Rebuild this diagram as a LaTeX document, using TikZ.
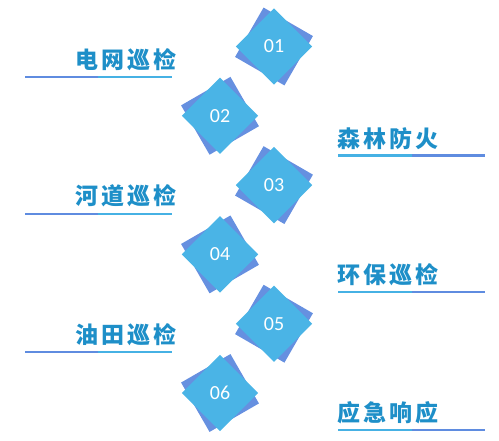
\documentclass[tikz,border=0pt]{standalone}
\usepackage{fontspec}
\newfontfamily\cjk{Noto Sans CJK SC}[LetterSpace=14]
\newfontfamily\numfont{Carlito}
\definecolor{lightb}{HTML}{4AB4E6}
\definecolor{darkb}{HTML}{6690E0}
\definecolor{txtb}{HTML}{1E8FC8}
\definecolor{lineL}{HTML}{46B1E4}
\definecolor{lineD}{HTML}{5F8CE0}
\begin{document}
\begin{tikzpicture}[x=1pt,y=-1pt,
  darksq/.style={rectangle,fill=darkb,minimum size=57pt,inner sep=0pt},
  lightsq/.style={rectangle,fill=lightb,minimum size=54pt,inner sep=0pt,rotate=45},
  num/.style={text=white,font=\numfont\fontsize{20}{20}\selectfont,inner sep=0pt},
  lbl/.style={text=txtb,font=\cjk\bfseries\fontsize{23}{23}\selectfont,inner sep=0pt},
  ul/.style={line width=2.2pt}]
\useasboundingbox (0,0) rectangle (499,441);
% diamonds
\foreach \i/\x/\y/\r in {1/274/46.5/-30, 2/220/115.8/30, 3/274/185.1/-30, 4/220/254.4/30, 5/274/323.7/-30, 6/220/393/30}{
  \node[darksq,rotate=\r] (d\i) at (\x,\y) {};
  \node[lightsq] (s\i) at (\x,\y) {};
  \node[num] (n\i) at (\x,\y) {0\i};
}
% left labels
\node[lbl,anchor=east] (t1) at (177,60) {电网巡检};
\node[lbl,anchor=east] (t3) at (177,196) {河道巡检};
\node[lbl,anchor=east] (t5) at (177,334.5) {油田巡检};
% right labels
\node[lbl,anchor=west] (t2) at (337,139) {森林防火};
\node[lbl,anchor=west] (t4) at (337,275) {环保巡检};
\node[lbl,anchor=west] (t6) at (337,412.5) {应急响应};
% underlines
\foreach \yy in {77,214,352}{
  \draw[ul,lineD] (25,\yy) -- (98,\yy);
  \draw[ul,lineL] (98,\yy) -- (172,\yy);
}
\foreach \yy in {155.5,292,430}{
  \draw[ul,lineL] (338,\yy) -- (412,\yy);
  \draw[ul,lineD] (412,\yy) -- (485,\yy);
}
\end{tikzpicture}
\end{document}
